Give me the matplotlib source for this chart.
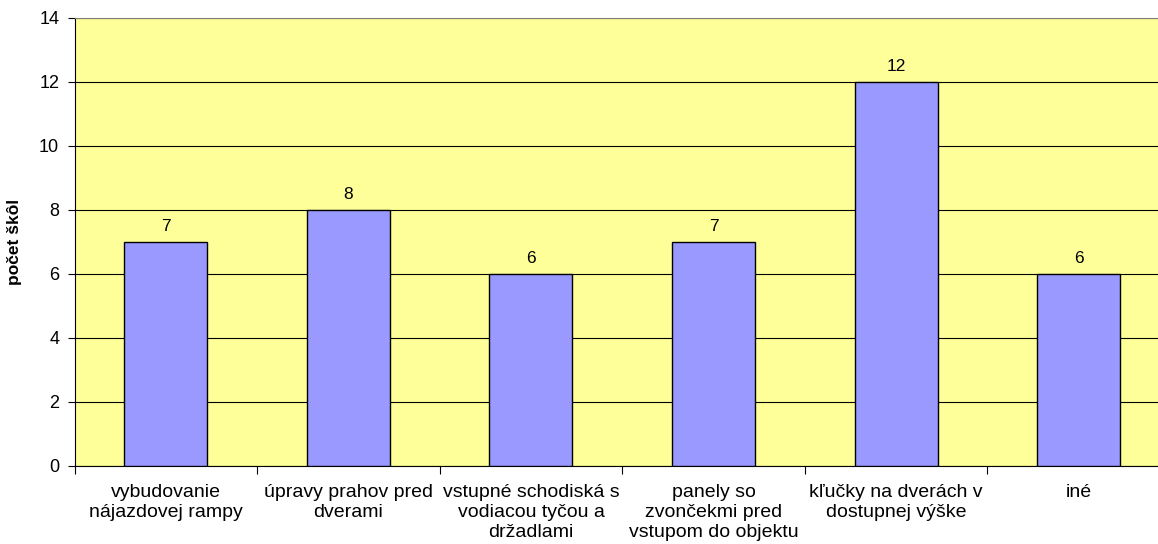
import matplotlib.pyplot as plt
import numpy as np

plt.rcParams['font.family'] = ['Liberation Sans', 'DejaVu Sans']

categories = ['vybudovanie\nnájazdovej rampy', 'úpravy prahov pred\ndverami',
              'vstupné schodiská s\nvodiacou tyčou a\ndržadlami',
              'panely so\nzvončekmi pred\nvstupom do objektu',
              'kľučky na dverách v\ndostupnej výške', 'iné']
values = [7, 8, 6, 7, 12, 6]

fig = plt.figure(figsize=(11.58, 5.44), dpi=100)
# plot area runs slightly past the right edge of the picture (cropped like the original)
ax = fig.add_axes([74.5 / 1158, 78 / 544, 1095.5 / 1158, 448 / 544])
ax.set_facecolor('#FFFF99')

x = np.arange(len(categories))
ax.bar(x, values, width=0.455, color='#9999FF', edgecolor='black', linewidth=1, zorder=3)
for xi, v in zip(x, values):
    ax.text(xi, v + 0.25, str(v), ha='center', va='bottom', fontsize=12.5, zorder=4)

ax.set_xlim(-0.5, len(categories) - 0.5)
ax.set_ylim(0, 14)
ax.set_yticks(range(0, 15, 2))
ax.yaxis.grid(True, color='black', linewidth=0.8, zorder=0)
ax.set_axisbelow(True)

ax.set_xticks(np.arange(-0.5, len(categories), 1.0))
ax.set_xticklabels([])
ax.set_xticks(x, minor=True)
ax.set_xticklabels(categories, minor=True, fontsize=14, linespacing=1.24, va='top')
ax.tick_params(axis='x', which='minor', length=0, pad=13)
ax.tick_params(axis='x', which='major', length=6, color='black')
ax.tick_params(axis='y', length=5, labelsize=13, pad=6)

ax.spines['right'].set_visible(False)
ax.spines['top'].set_color('#808080')
ax.spines['left'].set_color('black')
ax.spines['bottom'].set_color('black')

ax.set_ylabel('počet škôl', fontsize=12.5, fontweight='bold', labelpad=12)

fig.savefig('out.png', dpi=100)
